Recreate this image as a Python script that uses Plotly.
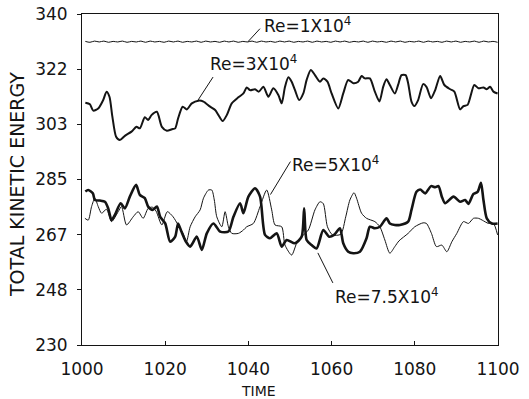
import numpy as np
import plotly.graph_objects as go

x_tick_values = [1000, 1020, 1040, 1060, 1080, 1100]
y_tick_labels = ['230', '248', '267', '285', '303', '322', '340']

series_names = ['Re=1X10<sup>4</sup>', 'Re=3X10<sup>4</sup>', 'Re=5X10<sup>4</sup>', 'Re=7.5X10<sup>4</sup>']

# Re = 1x10^4 : nearly constant, small ripple (values every ~1 time unit)
re1_values = [330.9, 330.6, 331.0, 330.7, 331.0, 330.6, 330.9, 330.7, 331.0, 330.6,
              330.9, 330.7, 331.0, 330.6, 331.0, 330.7, 330.9, 330.6, 331.0, 330.7,
              331.0, 330.6, 330.9, 330.7, 331.0, 330.6, 331.0, 330.7, 330.9, 330.6,
              331.0, 330.7, 331.0, 330.6, 330.9, 330.7, 331.0, 330.6, 331.0, 330.7,
              330.9, 330.6, 331.0, 330.7, 331.0, 330.6, 330.9, 330.7, 331.0, 330.6,
              331.0, 330.7, 330.9, 330.6, 331.0, 330.7, 331.0, 330.6, 330.9, 330.7,
              331.0, 330.6, 331.0, 330.7, 330.9, 330.6, 331.0, 330.7, 331.0, 330.6,
              330.9, 330.7, 331.0, 330.6, 331.0, 330.7, 330.9, 330.6, 331.0, 330.7,
              331.0, 330.6, 330.9, 330.7, 331.0, 330.6, 331.0, 330.7, 330.9, 330.6]
re1_start, re1_end = 1000.8, 1099.9

# Re = 3x10^4 : (time, energy)
re3_points = [
    (1000.8, 310.5), (1001.9, 310.0), (1002.7, 307.9), (1003.9, 308.6), (1005.1, 311.4),
    (1005.9, 314.2), (1006.6, 312.5), (1007.3, 305.9), (1008.2, 299.2), (1009.1, 298.1),
    (1010.3, 299.5), (1011.9, 300.9), (1013.1, 302.5), (1013.9, 302.0), (1015.1, 305.7),
    (1015.9, 304.8), (1016.7, 306.4), (1018.0, 307.5), (1019.2, 302.5), (1020.4, 301.2),
    (1021.6, 301.7), (1022.4, 302.0), (1023.1, 305.3), (1024.2, 309.2), (1025.2, 308.3),
    (1026.4, 310.3), (1028.0, 311.2), (1029.2, 310.9), (1030.8, 309.2), (1032.0, 308.1),
    (1032.8, 306.4), (1033.8, 304.4), (1034.8, 306.4), (1036.0, 310.3), (1037.6, 312.3),
    (1038.8, 313.6), (1039.6, 315.6), (1040.4, 314.7), (1041.6, 315.0), (1042.5, 314.2),
    (1043.6, 315.8), (1044.8, 312.5), (1046.0, 315.3), (1047.2, 313.1), (1048.0, 310.3),
    (1048.8, 315.8), (1049.6, 319.0), (1050.4, 317.5), (1051.2, 314.7), (1052.2, 311.4),
    (1053.2, 313.6), (1054.0, 318.1), (1055.0, 321.4), (1056.0, 319.7), (1057.2, 317.5),
    (1058.0, 318.6), (1059.0, 317.5), (1060.0, 313.6), (1061.6, 308.6), (1062.8, 313.6),
    (1064.0, 318.1), (1065.2, 317.0), (1066.4, 317.5), (1067.2, 319.4), (1068.0, 318.6),
    (1069.2, 318.6), (1070.4, 314.2), (1071.5, 310.9), (1072.4, 315.8), (1073.2, 318.3),
    (1074.0, 316.4), (1075.2, 313.6), (1076.0, 316.5), (1076.8, 319.7), (1077.8, 319.7),
    (1078.4, 317.0), (1079.2, 310.9), (1079.9, 309.4), (1080.8, 311.4), (1082.0, 316.7),
    (1082.8, 315.8), (1083.9, 312.0), (1084.9, 314.7), (1086.1, 319.4), (1087.1, 316.4),
    (1088.5, 315.0), (1089.5, 314.2), (1090.9, 308.3), (1091.7, 309.4), (1092.7, 309.8),
    (1094.3, 316.4), (1095.3, 315.3), (1096.5, 315.6), (1097.3, 315.0), (1098.1, 315.8),
    (1098.9, 314.2), (1099.9, 313.6),
]

# Re = 5x10^4 : thin line
re5_points = [
    (1000.7, 272.1), (1001.5, 271.5), (1002.3, 276.0), (1003.1, 278.8), (1003.9, 276.0),
    (1004.7, 273.8), (1005.9, 275.1), (1007.1, 271.0), (1008.7, 274.3), (1009.5, 276.0),
    (1010.7, 269.9), (1012.3, 272.6), (1013.5, 274.3), (1014.7, 272.1), (1015.9, 275.4),
    (1016.9, 275.8), (1017.8, 274.5), (1019.2, 269.9), (1020.5, 274.3), (1021.9, 272.6),
    (1023.1, 269.9), (1024.3, 267.1), (1025.1, 264.3), (1026.0, 269.3), (1027.2, 272.6),
    (1028.4, 274.9), (1029.2, 278.8), (1030.4, 281.5), (1031.2, 281.5), (1031.8, 278.2),
    (1032.4, 272.6), (1033.6, 269.3), (1034.4, 274.3), (1035.2, 269.3), (1036.0, 267.1),
    (1037.6, 267.1), (1038.8, 268.2), (1039.6, 269.3), (1041.2, 270.4), (1042.8, 276.0),
    (1044.4, 281.5), (1045.6, 274.9), (1046.4, 269.9), (1048.0, 269.3), (1048.8, 263.2),
    (1050.4, 259.9), (1051.6, 263.8), (1052.8, 266.0), (1054.4, 268.2), (1056.0, 274.9),
    (1057.2, 277.6), (1058.0, 277.0), (1059.0, 269.3), (1060.2, 266.6), (1062.2, 266.8),
    (1063.4, 272.6), (1064.4, 278.2), (1065.4, 280.6), (1066.0, 278.8), (1067.2, 273.8),
    (1068.4, 272.1), (1070.4, 271.0), (1071.6, 269.3), (1072.8, 264.9), (1074.0, 260.5),
    (1075.2, 262.7), (1076.2, 264.6), (1078.4, 267.1), (1080.0, 269.3), (1082.0, 270.6),
    (1082.8, 270.4), (1084.0, 267.1), (1085.2, 262.7), (1086.5, 263.2), (1087.7, 261.0),
    (1088.9, 264.3), (1090.1, 267.1), (1091.7, 271.0), (1092.9, 270.4), (1094.1, 272.1),
    (1095.3, 272.1), (1096.2, 271.5), (1097.7, 270.4), (1098.9, 270.4), (1099.9, 266.6),
]

# Re = 7.5x10^4 : thick line
re75_points = [
    (1000.8, 281.0), (1001.5, 281.5), (1002.6, 280.4), (1003.1, 278.2), (1004.3, 278.0),
    (1005.5, 277.6), (1006.3, 275.4), (1007.1, 271.5), (1007.9, 273.2), (1009.3, 277.1),
    (1010.3, 275.4), (1011.5, 279.3), (1013.0, 283.2), (1013.9, 279.9), (1015.1, 278.8),
    (1015.9, 276.0), (1017.0, 274.9), (1018.0, 276.0), (1018.8, 272.6), (1020.0, 270.4),
    (1021.2, 264.3), (1022.4, 266.0), (1023.1, 270.4), (1023.9, 267.7), (1025.0, 264.3),
    (1026.0, 262.7), (1027.6, 266.0), (1028.8, 261.6), (1030.0, 267.1), (1031.6, 270.4),
    (1033.2, 267.7), (1035.2, 267.7), (1036.4, 272.6), (1038.0, 277.1), (1038.8, 273.8),
    (1040.0, 279.3), (1041.6, 282.1), (1042.8, 279.3), (1044.0, 266.6), (1045.2, 265.5),
    (1046.8, 267.1), (1048.0, 262.7), (1049.2, 264.9), (1051.2, 263.8), (1052.8, 266.0),
    (1053.4, 275.4), (1054.0, 264.9), (1055.2, 263.2), (1056.4, 262.1), (1058.0, 268.2),
    (1059.4, 266.0), (1060.6, 266.6), (1062.0, 268.8), (1062.8, 263.8), (1064.0, 261.0),
    (1065.2, 260.5), (1066.8, 261.0), (1068.4, 265.5), (1069.2, 269.3), (1070.4, 268.8),
    (1071.6, 269.3), (1073.2, 272.1), (1074.0, 270.4), (1075.2, 269.9), (1076.4, 269.9),
    (1078.4, 271.0), (1079.2, 274.9), (1080.4, 280.9), (1081.3, 281.7), (1082.5, 280.4),
    (1083.9, 282.8), (1084.9, 282.4), (1085.7, 282.8), (1086.5, 279.3), (1087.3, 277.1),
    (1089.3, 279.3), (1090.9, 277.6), (1092.1, 278.2), (1092.9, 276.9), (1094.1, 280.2),
    (1095.1, 280.9), (1095.9, 283.9), (1096.5, 278.2), (1097.3, 272.1), (1098.5, 270.4),
    (1099.9, 270.4),
]

ink = '#141414'
font_family = 'DejaVu Sans'

fig = go.Figure()

re1_time = np.linspace(re1_start, re1_end, len(re1_values))
fig.add_trace(go.Scatter(x=re1_time, y=re1_values, mode='lines',
                         line=dict(color=ink, width=1, shape='spline', smoothing=1.0),
                         name=series_names[0], hoverinfo='skip'))

def add_series(points, width, name):
    t, v = zip(*points)
    fig.add_trace(go.Scatter(x=list(t), y=list(v), mode='lines',
                             line=dict(color=ink, width=width, shape='spline', smoothing=0.7),
                             name=name, hoverinfo='skip'))

add_series(re3_points, 2.0, series_names[1])
add_series(re5_points, 1.0, series_names[2])
add_series(re75_points, 2.6, series_names[3])

# labels: (text x, text y, pointer head x, head y, tail dx px, tail dy px)
label_layout = [
    (1043.3, 336.4, 1039.9, 330.8, 12, -13),
    (1030.3, 323.7, 1027.9, 311.4, 15, -23),
    (1050.0, 290.3, 1045.3, 280.0, 20, -33),
    (1060.3, 246.3, 1056.7, 260.6, 15, 30),
]
for name, (tx, ty, hx, hy, dx, dy) in zip(series_names, label_layout):
    fig.add_annotation(x=tx, y=ty, xref='x', yref='y', text=name, showarrow=False,
                       xanchor='left', yanchor='middle',
                       font=dict(family=font_family, size=17, color=ink))
    # pointer line (pixel-sized, anchored at the curve)
    fig.add_shape(type='line', xref='x', yref='y',
                  xsizemode='pixel', ysizemode='pixel', xanchor=hx, yanchor=hy,
                  x0=0, y0=0, x1=dx, y1=-dy,
                  line=dict(color=ink, width=1))

# axis titles
fig.add_annotation(x=1042.5, y=-0.14, xref='x', yref='paper', text='TIME',
                   showarrow=False, yanchor='middle',
                   font=dict(family=font_family, size=14, color=ink))
fig.add_annotation(x=-0.155, y=0.485, xref='paper', yref='paper', text='TOTAL KINETIC ENERGY',
                   showarrow=False, textangle=-90, xanchor='center', yanchor='middle',
                   font=dict(family=font_family, size=19, color=ink))

fig.update_layout(
    width=529, height=399,
    margin=dict(l=82, r=31, t=14, b=54, autoexpand=False),
    paper_bgcolor='white', plot_bgcolor='white',
    showlegend=False,
    font=dict(family=font_family, color=ink),
)
fig.update_xaxes(range=[1000, 1100], tickvals=x_tick_values,
                 ticktext=[str(v) for v in x_tick_values],
                 automargin=False,
                 showgrid=False, zeroline=False, showline=True, linecolor=ink, linewidth=1,
                 mirror=True, ticks='inside', ticklen=4, tickcolor=ink,
                 ticklabelstandoff=9,
                 tickfont=dict(family=font_family, size=17, color=ink))
fig.update_yaxes(range=[230, 340], tickvals=list(np.linspace(230, 340, len(y_tick_labels))),
                 ticktext=y_tick_labels,
                 automargin=False,
                 showgrid=False, zeroline=False, showline=True, linecolor=ink, linewidth=1,
                 mirror=True, ticks='outside', ticklen=4, tickcolor=ink,
                 ticklabelstandoff=6,
                 tickfont=dict(family=font_family, size=17, color=ink))

fig.write_html('out.html', config={'displayModeBar': False},
               post_script="document.body.style.margin='0';document.body.style.overflow='hidden';")
